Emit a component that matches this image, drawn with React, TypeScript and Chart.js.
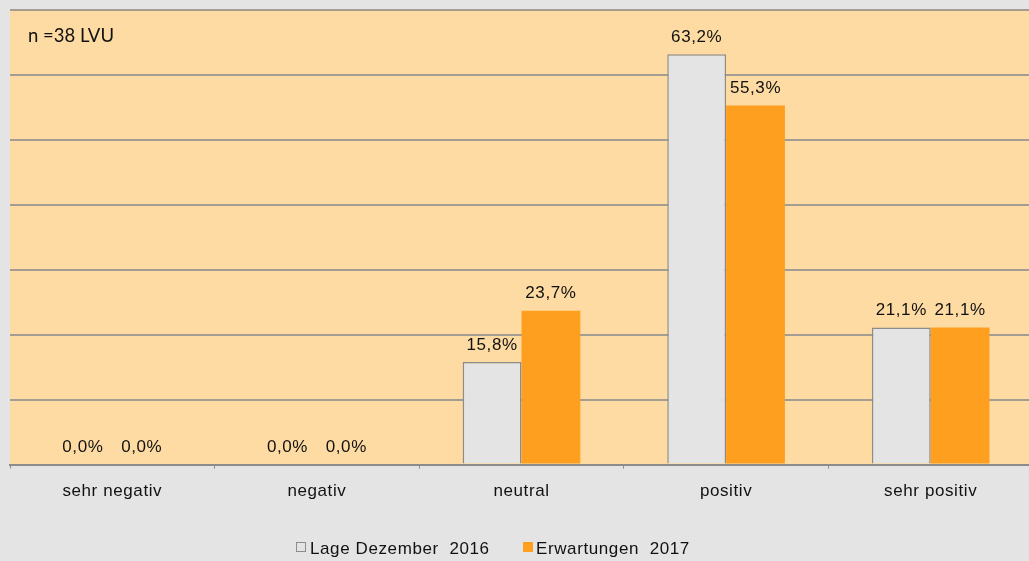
import React, { useEffect, useRef } from "react";
import { Chart, registerables } from "chart.js";

Chart.register(...registerables);

const categories = ["sehr negativ", "negativ", "neutral", "positiv", "sehr positiv"];
const lage2016 = [0.0, 0.0, 15.8, 63.2, 21.1];
const erwartungen2017 = [0.0, 0.0, 23.7, 55.3, 21.1];
const seriesNames = ["Lage Dezember  2016", "Erwartungen  2017"];
const noteText = "n =38 LVU";

const BG = "#e4e4e4";
const PLOT = "#fddba2";
const ORANGE = "#ff9f20";
const GRAYBAR = "#e4e4e4";
const FONT = "'Liberation Sans', Arial, sans-serif";

const fmt = (v: number) => v.toFixed(1).replace(".", ",") + "%";

const decorPlugin = {
  id: "decor",
  beforeDraw(chart: any) {
    const { ctx, chartArea } = chart;
    ctx.save();
    ctx.fillStyle = BG;
    ctx.fillRect(0, 0, chart.width, chart.height);
    ctx.fillStyle = PLOT;
    ctx.fillRect(chartArea.left, chartArea.top, chartArea.right - chartArea.left, chartArea.bottom - chartArea.top);
    ctx.restore();
    ctx.letterSpacing = "0.6px";
  },
  afterDatasetsDraw(chart: any) {
    const { ctx } = chart;
    ctx.save();
    ctx.letterSpacing = "0.6px";
    ctx.font = `17px ${FONT}`;
    ctx.fillStyle = "#111";
    ctx.textAlign = "center";
    ctx.textBaseline = "middle";
    chart.data.datasets.forEach((ds: any, i: number) => {
      const meta = chart.getDatasetMeta(i);
      meta.data.forEach((bar: any, j: number) => {
        ctx.fillText(fmt(ds.data[j]), bar.x, bar.y - 17);
      });
    });
    // note
    ctx.letterSpacing = "0px";
    ctx.textAlign = "left";
    ctx.font = `18.5px Lato, 'Open Sans', sans-serif`;
    ctx.fillText(noteText, 28, 36);
    // legend
    ctx.letterSpacing = "0.6px";
    ctx.font = `17px ${FONT}`;
    const ly = 549;
    ctx.fillStyle = GRAYBAR;
    ctx.fillRect(296.5, 542.5, 9, 9);
    ctx.strokeStyle = "#8c8c8c";
    ctx.lineWidth = 1;
    ctx.strokeRect(296.5, 542.5, 9, 9);
    ctx.fillStyle = "#111";
    ctx.fillText(seriesNames[0], 310, ly);
    ctx.fillStyle = ORANGE;
    ctx.fillRect(523, 542, 10, 10);
    ctx.fillStyle = "#111";
    ctx.fillText(seriesNames[1], 536, ly);
    ctx.restore();
  },
};

export default function App() {
  const ref = useRef<HTMLCanvasElement | null>(null);
  useEffect(() => {
    if (!ref.current) return;
    const chart = new Chart(ref.current, {
      type: "bar",
      data: {
        labels: categories,
        datasets: [
          {
            label: seriesNames[0],
            data: lage2016,
            backgroundColor: GRAYBAR,
            borderColor: "#8c8c8c",
            borderWidth: 1.5,
            barPercentage: 1,
            categoryPercentage: 0.575,
          },
          {
            label: seriesNames[1],
            data: erwartungen2017,
            backgroundColor: ORANGE,
            borderWidth: 0,
            barPercentage: 1,
            categoryPercentage: 0.575,
          },
        ],
      },
      options: {
        animation: false,
        responsive: true,
        maintainAspectRatio: false,
        layout: { padding: { left: 10, top: 10, right: 0, bottom: 46 } },
        plugins: { legend: { display: false }, tooltip: { enabled: false } },
        scales: {
          x: {
            grid: {
              display: true,
              drawOnChartArea: false,
              drawTicks: true,
              tickLength: 4,
              color: "#8c8c8c",
              offset: true,
            },
            border: { display: true, color: "#8c8c8c", width: 2 },
            ticks: {
              color: "#111",
              font: { family: FONT, size: 17 },
              padding: 13,
              maxRotation: 0,
            },
          },
          y: {
            min: 0,
            max: 70,
            ticks: { display: false, stepSize: 10 },
            border: { display: false },
            grid: { color: "#a39c92", lineWidth: 2, drawTicks: false },
          },
        },
      },
      plugins: [decorPlugin],
    });
    return () => chart.destroy();
  }, []);
  return (
    <div style={{ position: "fixed", left: 0, top: 0, width: 1029, height: 561, overflow: "hidden" }}>
      <div style={{ position: "relative", width: 1033, height: 561 }}>
        <canvas ref={ref} />
      </div>
    </div>
  );
}
